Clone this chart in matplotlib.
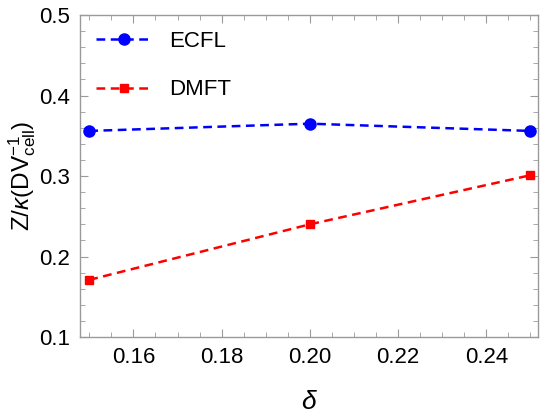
import numpy as np
import matplotlib.pyplot as plt
from matplotlib.ticker import MultipleLocator

# ==========================================================
# Data
# ==========================================================

delta = [0.15, 0.20, 0.25]

ecfl = [0.356, 0.365, 0.356]
dmft = [0.171, 0.240, 0.301]

# ==========================================================
# Figure setup
# ==========================================================

plt.rcParams['font.family'] = ['Liberation Sans', 'DejaVu Sans']
plt.rcParams['mathtext.fontset'] = 'custom'
plt.rcParams['mathtext.rm'] = 'Liberation Sans'
plt.rcParams['mathtext.it'] = 'Liberation Sans:italic'

fig = plt.figure(figsize=(5.42, 4.17), dpi=100)
ax = fig.add_axes([0.1476, 0.1918, 0.8450, 0.7722])

ax.plot(delta, ecfl, '--', color='blue', marker='o', markersize=8,
        linewidth=1.8, dashes=(3.5, 2.2), label='ECFL')
ax.plot(delta, dmft, '--', color='red', marker='s', markersize=5.5,
        linewidth=1.8, dashes=(3.5, 2.2), label='DMFT')

# ==========================================================
# Axes formatting (Mathematica-like frame)
# ==========================================================

ax.set_xlim(0.1479, 0.2517)
ax.set_ylim(0.1, 0.5)

ax.xaxis.set_major_locator(MultipleLocator(0.02))
ax.xaxis.set_minor_locator(MultipleLocator(0.005))
ax.yaxis.set_major_locator(MultipleLocator(0.1))
ax.yaxis.set_minor_locator(MultipleLocator(0.02))
ax.xaxis.set_major_formatter(lambda v, p: f'{v:.2f}')
ax.yaxis.set_major_formatter(lambda v, p: f'{v:.1f}')

frame_gray = '#9a9a9a'
for side in ax.spines.values():
    side.set_color(frame_gray)
    side.set_linewidth(1.0)

ax.tick_params(which='both', direction='in', top=True, right=True,
               color=frame_gray, labelsize=16, labelcolor='black')
ax.tick_params(which='major', length=6, width=0.8, pad=7)
ax.tick_params(which='minor', length=3.5, width=0.6)
ax.tick_params(axis='x', which='both', labeltop=False)
ax.tick_params(axis='y', which='both', labelright=False)

ax.set_xlabel(r'$\delta$', fontsize=19, labelpad=16)
ax.set_ylabel(r'Z/$\kappa$(DV$_{\mathrm{cell}}^{-1}$)', fontsize=17.5,
              labelpad=1)

ax.legend(loc='upper left', frameon=False, fontsize=16,
          handlelength=2.6, handletextpad=0.7, labelspacing=1.25,
          borderaxespad=0.3, bbox_to_anchor=(0.0, 1.0))

fig.savefig('out.png', dpi=100)
